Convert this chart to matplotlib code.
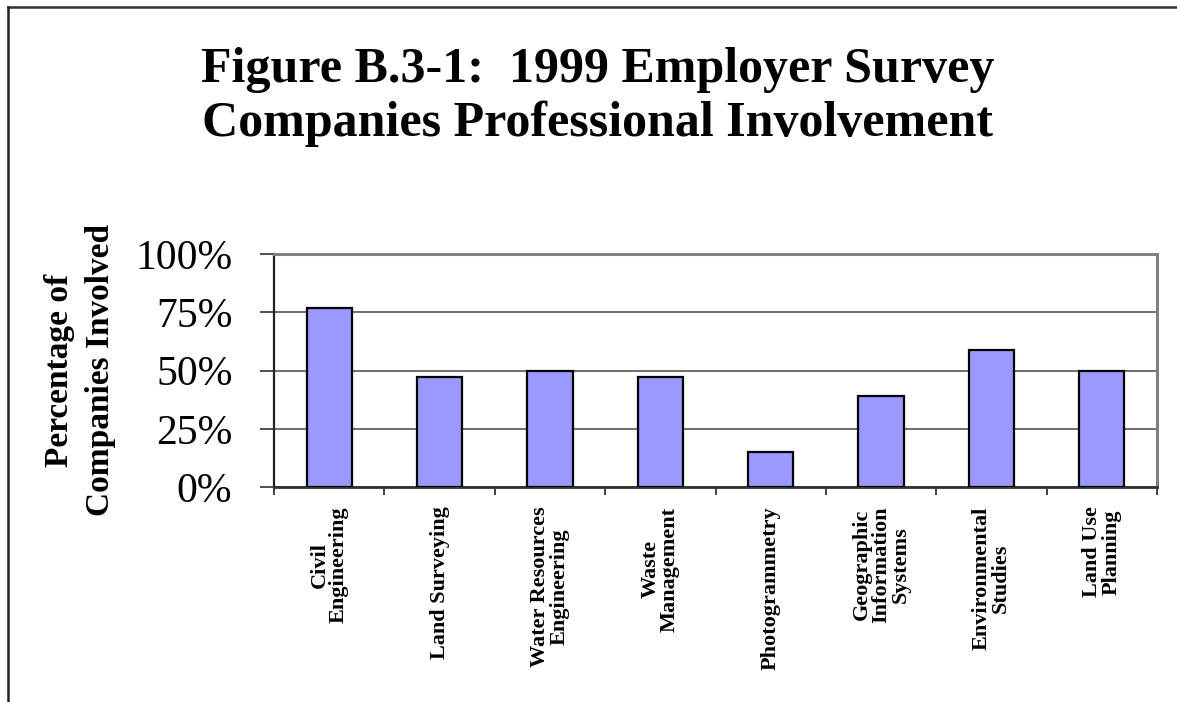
import matplotlib
matplotlib.use('Agg')
import matplotlib.pyplot as plt
from matplotlib.lines import Line2D
from matplotlib.ticker import FixedLocator, PercentFormatter
import numpy as np

# data
categories = ['Civil\nEngineering', 'Land Surveying', 'Water Resources\nEngineering',
              'Waste\nManagement', 'Photogrammetry', 'Geographic\nInformation\nSystems',
              'Environmental\nStudies', 'Land Use\nPlanning']
involvement = [77, 47, 50, 47, 15, 39, 59, 50]
y_ticks = [0, 25, 50, 75, 100]

title_text = 'Figure B.3-1:  1999 Employer Survey\nCompanies Professional Involvement'
ylabel_text = 'Percentage of\nCompanies Involved'

plt.rcParams['font.family'] = ['Liberation Serif', 'DejaVu Serif']

fig = plt.figure(figsize=(11.77, 7.02), dpi=100)
ax = fig.add_axes([274 / 1177, 1 - 487 / 702, (1157 - 274) / 1177, (487 - 254) / 702])

x = np.arange(len(categories))
ax.bar(x, involvement, width=0.41, color='#9999ff', edgecolor='black', linewidth=1.6, zorder=3)

ax.set_xlim(-0.5, len(categories) - 0.5)
ax.set_ylim(0, 100)

# y axis
ax.yaxis.set_major_locator(FixedLocator(y_ticks))
ax.yaxis.set_major_formatter(PercentFormatter(decimals=0))
ax.tick_params(axis='y', which='major', direction='out', length=10, width=1.2,
               labelsize=30, pad=20, color='#333333')
ax.grid(axis='y', color='#555555', linewidth=1.2, zorder=1)

# x axis: labels in the middle, ticks between categories
ax.set_xticks(x)
ax.set_xticklabels(categories, rotation=90, fontsize=16, fontweight='bold',
                   ha='center', va='top', multialignment='center', linespacing=0.95)
ax.tick_params(axis='x', which='major', length=0, pad=14)
ax.xaxis.set_minor_locator(FixedLocator(np.arange(-0.5, len(categories), 1.0)))
ax.tick_params(axis='x', which='minor', direction='out', length=6, width=1.2, color='#222222')

for side in ['top', 'right']:
    ax.spines[side].set_color('#808080')
    ax.spines[side].set_linewidth(2.2)
ax.spines['left'].set_color('#222222')
ax.spines['left'].set_linewidth(1.6)
ax.spines['bottom'].set_color('#333333')
ax.spines['bottom'].set_linewidth(2.0)

fig.text(598 / 1177, 1 - 97 / 702, title_text, ha='center', va='center',
         fontsize=36, fontweight='bold', linespacing=1.2)
fig.text(80 / 1177, 1 - 370 / 702, ylabel_text, rotation=90, ha='center', va='center',
         fontsize=24, fontweight='bold', multialignment='center', linespacing=1.4)

# outer frame, only top and left edges show in the picture
fig.add_artist(Line2D([8 / 1177, 1.0], [1 - 7 / 702, 1 - 7 / 702], transform=fig.transFigure,
                      color='#333333', linewidth=1.8))
fig.add_artist(Line2D([8 / 1177, 8 / 1177], [0, 1 - 7 / 702], transform=fig.transFigure,
                      color='#222222', linewidth=1.8))

fig.savefig('out.png', dpi=100)
